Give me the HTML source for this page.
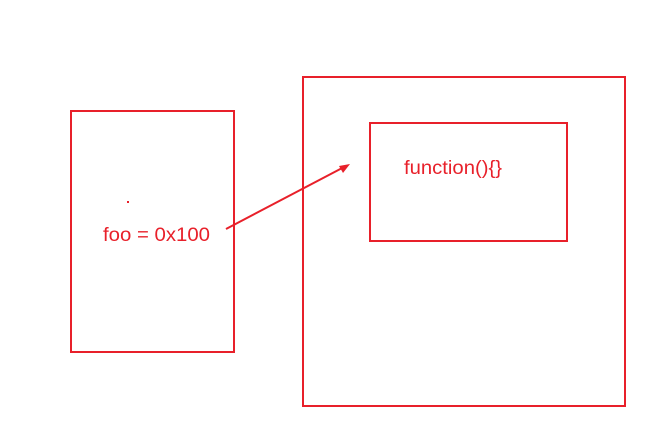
<!DOCTYPE html>
<html><head><meta charset="utf-8"><style>
html,body{margin:0;padding:0;background:#fff;width:662px;height:429px;overflow:hidden}
</style></head><body>
<svg width="662" height="429" xmlns="http://www.w3.org/2000/svg">
<g fill="none" stroke="#e8202a" stroke-width="2">
<rect x="71" y="111" width="163" height="241"/>
<rect x="303" y="77" width="322" height="329"/>
<rect x="370" y="123" width="197" height="118"/>
<line x1="226" y1="229" x2="346" y2="166"/>
</g>
<polygon points="350,164 339,166 343,173" fill="#e8202a"/>
<rect x="127" y="201" width="2" height="2" fill="#e8202a"/>
<g fill="#e8202a" font-family="'Liberation Sans',sans-serif" font-size="19">
<text x="103" y="241" textLength="107" lengthAdjust="spacingAndGlyphs">foo = 0x100</text>
<text x="404" y="174" textLength="98" lengthAdjust="spacingAndGlyphs">function(){}</text>
</g>
</svg>
</body></html>
